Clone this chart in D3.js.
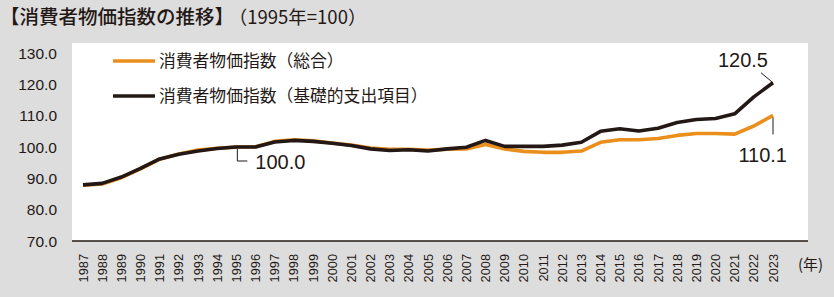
<!DOCTYPE html>
<html>
<head>
<meta charset="utf-8">
<script src="https://cdn.jsdelivr.net/npm/d3@7"></script>
<style>
  body { margin: 0; background: #dddddd; }
  svg { display: block; }
</style>
</head>
<body>
<div id="chart"></div>
<script>
const years = d3.range(1987, 2024)
const general = [87.8, 88.2, 90.2, 93.0, 96.1, 97.8, 99.0, 99.6, 100.0, 100.1,
  101.8, 102.3, 102.0, 101.3, 100.6, 99.7, 99.3, 99.3, 99.0, 99.3,
  99.4, 100.8, 99.4, 98.6, 98.3, 98.3, 98.7, 101.5, 102.3, 102.3,
  102.7, 103.7, 104.3, 104.3, 104.1, 106.7, 110.1]
const basic = [87.9, 88.4, 90.4, 93.2, 96.2, 97.7, 98.7, 99.5, 100.0, 100.0,
  101.6, 102.1, 101.8, 101.2, 100.5, 99.4, 98.9, 99.1, 98.7, 99.4,
  99.9, 102.1, 100.2, 100.2, 100.2, 100.6, 101.5, 105.0, 105.8, 105.1,
  106.0, 107.8, 108.8, 109.1, 110.6, 116.0, 120.5]
const yTicks = [70, 80, 90, 100, 110, 120, 130]
const seriesNames = ['消費者物価指数（総合）', '消費者物価指数（基礎的支出項目）']
const seriesColors = ['#ea8e1c', '#231815']

const W = 834, H = 297
const latin = '"Liberation Sans", Arial, sans-serif'
const cjk = '"Noto Sans CJK JP", sans-serif'
const ink = '#231815'

const svg = d3.select('#chart').append('svg')
  .attr('width', W).attr('height', H)

svg.append('rect').attr('width', W).attr('height', H).attr('fill', '#dddddd')
// white plot panel
svg.append('rect')
  .attr('x', 72).attr('y', 43).attr('width', 736).attr('height', 198)
  .attr('fill', '#ffffff')

const x = d3.scaleLinear().domain([1987, 2023]).range([83, 773])
const y = d3.scaleLinear().domain([70, 130]).range([241, 53])

// title
const title = svg.append('text')
  .attr('x', 0).attr('y', 24)
  .attr('fill', ink)
title.append('tspan')
  .attr('font-family', cjk).attr('font-size', 19.5).attr('font-weight', 500)
  .text('【消費者物価指数の推移】')
title.append('tspan')
  .attr('dx', 4)
  .attr('font-family', cjk).attr('font-size', 18.5)
  .text('（1995年=100）')

// y axis labels
svg.append('g')
  .selectAll('text')
  .data(yTicks)
  .join('text')
    .attr('x', 57)
    .attr('y', d => y(d))
    .attr('dy', '0.36em')
    .attr('text-anchor', 'end')
    .attr('font-family', latin).attr('font-size', 15.5)
    .attr('fill', ink)
    .text(d => d.toFixed(1))

// x axis baseline
svg.append('line')
  .attr('x1', 72).attr('x2', 808)
  .attr('y1', y(70)).attr('y2', y(70))
  .attr('stroke', ink).attr('stroke-width', 1.5)

// x tick labels, rotated
svg.append('g')
  .selectAll('text')
  .data(years)
  .join('text')
    .attr('transform', d => `translate(${x(d)},254) rotate(-90)`)
    .attr('dy', '0.36em')
    .attr('text-anchor', 'end')
    .attr('font-family', latin).attr('font-size', 12.8)
    .attr('fill', ink)
    .text(d => d)

svg.append('text')
  .attr('x', 798).attr('y', 270)
  .attr('font-family', cjk).attr('font-size', 15)
  .attr('fill', ink)
  .text('(年)')

// lines
const line = d3.line()
  .x((d, i) => x(years[i]))
  .y(d => y(d))

;[general, basic].forEach((s, k) => {
  svg.append('path')
    .datum(s)
    .attr('d', line)
    .attr('fill', 'none')
    .attr('stroke', seriesColors[k])
    .attr('stroke-width', 3.6)
    .attr('stroke-linejoin', 'round')
})

// legend
const legend = svg.append('g')
seriesNames.forEach((name, k) => {
  const ly = 61 + k * 35
  legend.append('line')
    .attr('x1', 113).attr('x2', 155)
    .attr('y1', ly).attr('y2', ly)
    .attr('stroke', seriesColors[k]).attr('stroke-width', 3.6)
  legend.append('text')
    .attr('x', 159).attr('y', ly)
    .attr('dy', '0.36em')
    .attr('font-family', cjk).attr('font-size', 16.8)
    .attr('fill', ink)
    .text(name)
})

// annotations
const ann = svg.append('g')
  .attr('fill', 'none').attr('stroke', ink).attr('stroke-width', 1)

const i95 = years.indexOf(1995)
const p95 = [x(1995) + 1, y(basic[i95])]
ann.append('path')
  .attr('d', `M${p95[0]},${p95[1] + 2}V${p95[1] + 14}H${p95[0] + 10}`)
const last = years.length - 1
const pB = [x(years[last]), y(basic[last])]
ann.append('path')
  .attr('d', `M${pB[0]},${pB[1]}L${pB[0] - 12},${pB[1] - 10}`)
const pG = [x(years[last]), y(general[last])]
ann.append('path')
  .attr('d', `M${pG[0]},${pG[1] + 2}V${pG[1] + 19}`)

const labels = [
  {t: basic[i95].toFixed(1), x: p95[0] + 18, y: p95[1] + 22, a: 'start'},
  {t: basic[last].toFixed(1), x: pB[0] - 5, y: pB[1] - 16, a: 'end'},
  {t: general[last].toFixed(1), x: pG[0] + 14, y: pG[1] + 47, a: 'end'}
]
svg.append('g')
  .selectAll('text')
  .data(labels)
  .join('text')
    .attr('x', d => d.x).attr('y', d => d.y)
    .attr('text-anchor', d => d.a)
    .attr('font-family', latin).attr('font-size', 20)
    .attr('fill', ink)
    .text(d => d.t)
</script>
</body>
</html>
